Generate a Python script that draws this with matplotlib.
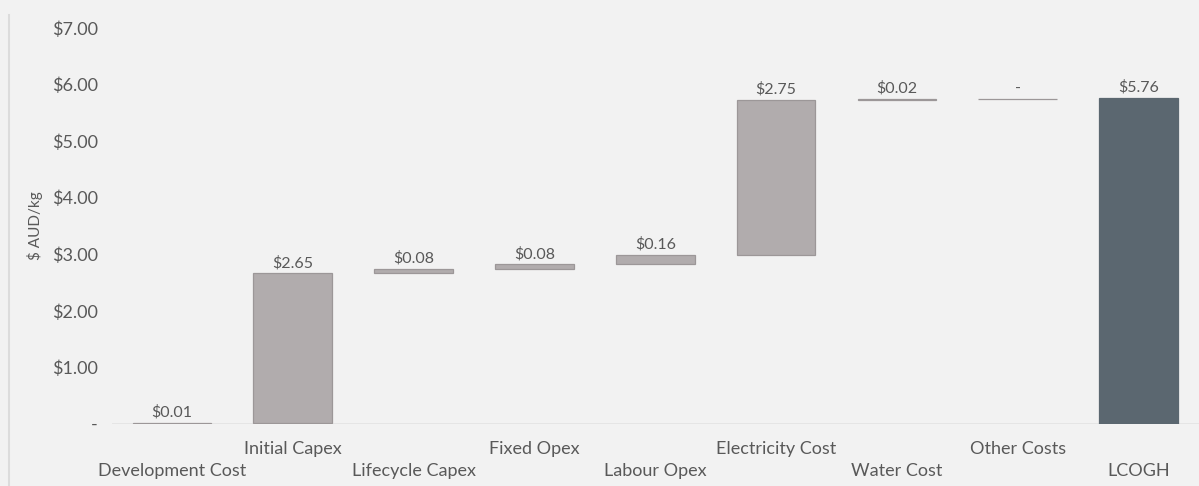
import matplotlib
matplotlib.use("Agg")
import matplotlib.pyplot as plt
from matplotlib.lines import Line2D
from matplotlib.ticker import FuncFormatter

# Componentes del LCOGH ($ AUD/kg)
categorias = ["Development Cost", "Initial Capex", "Lifecycle Capex", "Fixed Opex",
              "Labour Opex", "Electricity Cost", "Water Cost", "Other Costs", "LCOGH"]
valores = [0.01, 2.65, 0.08, 0.08, 0.16, 2.75, 0.02, 0.0]
total = 5.76
etiquetas = ["$0.01", "$2.65", "$0.08", "$0.08", "$0.16", "$2.75", "$0.02", "-", "$5.76"]

GRIS = "#b1acad"
BORDE = "#9c9798"
TOTAL = "#5b6770"
FONDO = "#f2f2f2"
TEXTO = "#595959"

plt.rcParams["font.family"] = ["Lato", "DejaVu Sans"]

fig = plt.figure(figsize=(11.99, 4.86), dpi=100, facecolor=FONDO)
ax = fig.add_axes([0.093, 0.128, 0.907, 0.814], facecolor=FONDO)

# cascada: cada barra arranca donde termina la anterior
base = 0.0
bases = []
for v in valores:
    bases.append(base)
    base += v
x = list(range(len(categorias)))
alturas = valores + [total]
bases = bases + [0.0]
colores = [GRIS] * len(valores) + [TOTAL]
bordes = [BORDE] * len(valores) + [TOTAL]

ax.bar(x, alturas, bottom=bases, width=0.65, color=colores,
       edgecolor=bordes, linewidth=0.9)

for xi, b, h, t in zip(x, bases, alturas, etiquetas):
    ax.text(xi, b + h + 0.06, t, ha="center", va="bottom", fontsize=11.5, color=TEXTO)

ax.set_xlim(-0.5, 8.5)
ax.set_ylim(0, 7)
ax.set_yticks(range(0, 8))
ax.yaxis.set_major_formatter(FuncFormatter(lambda v, p: "-" if v == 0 else f"${v:.2f}"))
ax.tick_params(axis="y", length=0, pad=10, labelsize=13, labelcolor=TEXTO)
ax.set_ylabel("$ AUD/kg", fontsize=11, color=TEXTO, labelpad=6)

# etiquetas de categoría escalonadas en dos renglones
ax.set_xticks(x)
ax.set_xticklabels([])
ax.tick_params(axis="x", length=0)
for xi, c in zip(x, categorias):
    dy = -0.063 if xi % 2 else -0.12
    ax.text(xi, dy, c, transform=ax.get_xaxis_transform(), ha="center", va="center",
            fontsize=13, color=TEXTO)

for s in ax.spines.values():
    s.set_visible(False)
ax.axhline(0, color="#e3e3e3", linewidth=1.2, zorder=0)

# borde izquierdo tenue
fig.add_artist(Line2D([0.0075, 0.0075], [0.0, 0.97], transform=fig.transFigure,
                      color="#dcdcdc", linewidth=1.5))

fig.savefig("out.png", dpi=100, facecolor=FONDO)
